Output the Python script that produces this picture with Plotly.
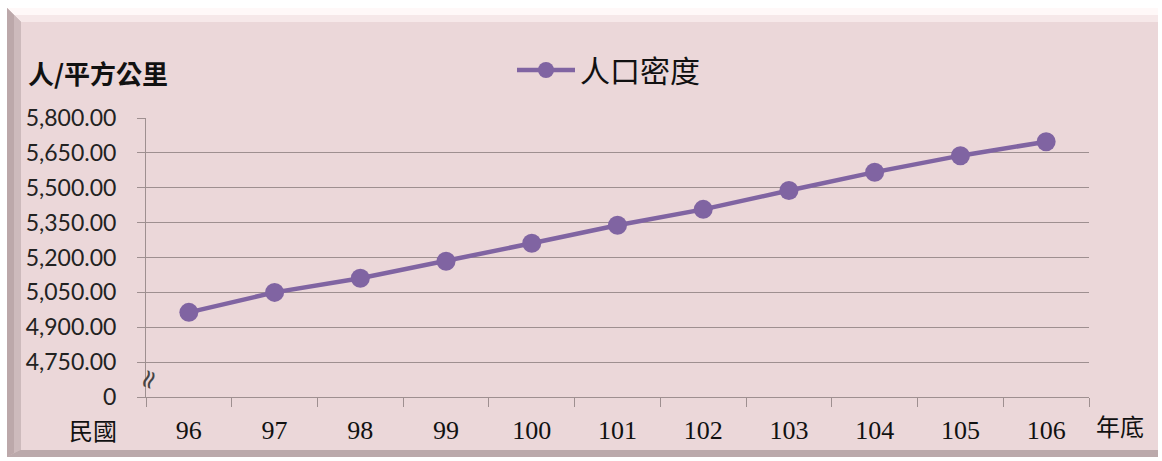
import plotly.graph_objects as go

# ---- data ----
years = ["96", "97", "98", "99", "100", "101", "102", "103", "104", "105", "106"]
density = [4964, 5050, 5111, 5184, 5261, 5339, 5407, 5488, 5567, 5638, 5698]
series_name = "人口密度"
y_tickvals = [4600, 4750, 4900, 5050, 5200, 5350, 5500, 5650, 5800]
y_ticktext = ["0", "4,750.00", "4,900.00", "5,050.00", "5,200.00", "5,350.00",
              "5,500.00", "5,650.00", "5,800.00"]
y_title = "人/平方公里"
x_left_label = "民國"
x_right_label = "年底"

W, H = 1162, 461
L, R, T, B = 146, 1089, 118, 397


def px(x):
    return (x - L) / (R - L)


def py(y):
    return (B - y) / (B - T)


PINK = "#EBD7D9"
LINE = "#8064A2"
GRID = "#9E8F90"

fig = go.Figure()
fig.add_trace(go.Scatter(
    x=years, y=density, mode="lines+markers", name=series_name,
    line=dict(color=LINE, width=4.5),
    marker=dict(color=LINE, size=19),
))


def poly(pts, color):
    d = "M " + " L ".join(f"{px(a)},{py(b)}" for a, b in pts) + " Z"
    return dict(type="path", xref="paper", yref="paper", path=d,
                fillcolor=color, line=dict(width=0), layer="below")


X0, X1, Y0, Y1 = 7, 1158, 8, 457
IX0, IX1, IY0, IY1 = 21, 1158, 22, 450
shapes = [
    poly([(X0, Y0), (X1, Y0), (X1, Y1), (X0, Y1)], "#BCA9AB"),
    poly([(X0, Y0), (X1, Y0), (X1, IY0), (IX0, IY0)], "#F6E8E9"),
    poly([(X0, Y0), (X1, Y0), (X1, 15), (14, 15)], "#FFF8F8"),
    poly([(X0, Y0), (IX0, IY0), (IX0, IY1), (X0, Y1)], "#CDBABC"),
    poly([(X0, Y0), (14, 15), (14, 453), (X0, Y1)], "#BCA8AA"),
    poly([(X0, Y1), (IX0, IY1), (X1, IY1), (X1, Y1)], "#BBA9AB"),
    poly([(IX0, IY0), (IX1, IY0), (IX1, IY1), (IX0, IY1)], PINK),
]

annotations = [
    dict(text="<b>" + y_title + "</b>", x=px(26), y=py(73), xref="paper", yref="paper",
         xanchor="left", yanchor="middle", showarrow=False,
         font=dict(family="Noto Sans CJK TC", size=26, color="#111111")),
    dict(text=x_left_label, x=px(119), y=py(430), xref="paper", yref="paper",
         xanchor="right", yanchor="middle", showarrow=False,
         font=dict(family="Noto Sans CJK TC", size=24, color="#111111")),
    dict(text=x_right_label, x=px(1094), y=py(425), xref="paper", yref="paper",
         xanchor="left", yanchor="middle", showarrow=False,
         font=dict(family="Noto Sans CJK TC", size=24, color="#111111")),
    dict(text="≈", x=px(148), y=py(379), xref="paper", yref="paper",
         xanchor="center", yanchor="middle", showarrow=False, textangle=-70,
         font=dict(family="DejaVu Sans", size=26, color="#444444")),
]

fig.update_layout(
    width=W, height=H,
    margin=dict(l=L, r=W - R, t=T, b=H - B),
    paper_bgcolor="white",
    plot_bgcolor="rgba(0,0,0,0)",
    shapes=shapes,
    annotations=annotations,
    showlegend=True,
    legend=dict(x=px(512), y=py(70), xanchor="left", yanchor="middle",
                orientation="h", bgcolor="rgba(0,0,0,0)", itemwidth=58,
                font=dict(family="Noto Sans CJK TC", size=30, color="#111111")),
    xaxis=dict(type="category", range=[-0.5, 10.5], showgrid=False,
               showline=True, linecolor=GRID, linewidth=1,
               ticks="outside", tickson="boundaries", ticklen=9, tickcolor=GRID,
               ticklabelstandoff=10,
               tickfont=dict(family="Liberation Serif", size=26, color="#111111"),
               fixedrange=True),
    yaxis=dict(range=[4600, 5800], tickvals=y_tickvals, ticktext=y_ticktext,
               showgrid=True, gridcolor=GRID, gridwidth=1,
               showline=True, linecolor=GRID, linewidth=1,
               ticks="outside", ticklen=8, tickcolor=GRID,
               ticklabelstandoff=16,
               tickfont=dict(family="Lato", size=23, color="#222222"),
               zeroline=False, fixedrange=True),
)

fig.write_html("out.html", config={"displayModeBar": False},
               post_script="document.body.style.margin='0';document.body.style.overflow='hidden';")
